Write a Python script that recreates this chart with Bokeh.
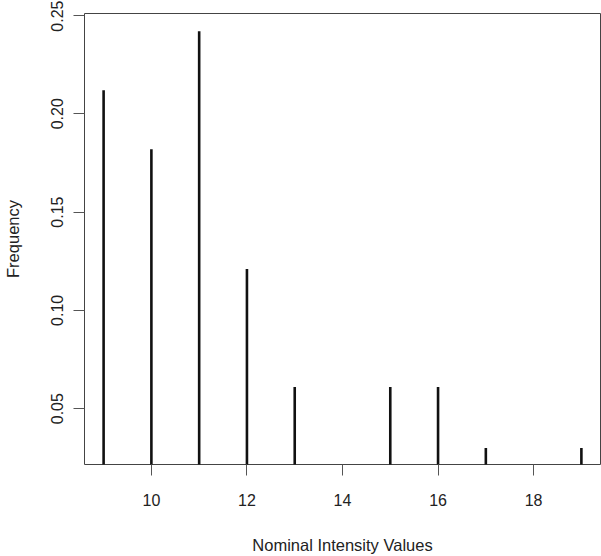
from bokeh.plotting import figure
from bokeh.models import FixedTicker, Range1d, ColumnDataSource
from bokeh.embed import file_html
from bokeh.resources import INLINE

# Data
intensity = [9, 10, 11, 12, 13, 15, 16, 17, 19]
frequency = [0.212, 0.182, 0.242, 0.121, 0.061, 0.061, 0.061, 0.030, 0.030]
baseline = [0, 0, 0, 0, 0, 0, 0, 0, 0]
x_ticks = [10, 12, 14, 16, 18]
y_ticks = [0.05, 0.10, 0.15, 0.20, 0.25]
y_labels = ["0.05", "0.10", "0.15", "0.20", "0.25"]

source = ColumnDataSource(dict(x=intensity, y=frequency, base=baseline))

p = figure(width=601, height=556, output_backend="svg", toolbar_location=None,
           x_range=Range1d(8.6, 19.4), y_range=Range1d(0.0216, 0.2510),
           min_border_left=81, min_border_right=1, min_border_top=13,
           min_border_bottom=91)

p.segment(x0="x", y0="base", x1="x", y1="y", source=source,
          line_color="#111111", line_width=2.6)

FONT = "Liberation Sans"
for ax in (p.xaxis[0], p.yaxis[0]):
    ax.axis_line_color = None
    ax.major_tick_line_color = "#555555"
    ax.major_tick_line_width = 1
    ax.major_tick_out = 11
    ax.major_tick_in = 0
    ax.minor_tick_line_color = None
    ax.major_label_text_font = FONT
    ax.major_label_text_font_size = "16px"
    ax.major_label_text_color = "#222222"
    ax.axis_label_text_font = FONT
    ax.axis_label_text_font_size = "16.5px"
    ax.axis_label_text_font_style = "normal"
    ax.axis_label_text_color = "#222222"

p.xaxis.ticker = FixedTicker(ticks=x_ticks)
p.xaxis.major_label_standoff = 18
p.xaxis.axis_label = "Nominal Intensity Values"
p.xaxis.axis_label_standoff = 27

p.yaxis.ticker = FixedTicker(ticks=y_ticks)
p.yaxis.major_label_overrides = {t: l for t, l in zip(y_ticks, y_labels)}
p.yaxis.major_label_orientation = "vertical"
p.yaxis.major_label_standoff = 10
p.yaxis.axis_label = "Frequency"
p.yaxis.axis_label_standoff = 27

p.xgrid.grid_line_color = None
p.ygrid.grid_line_color = None
p.outline_line_color = "#444444"
p.outline_line_width = 1
p.background_fill_color = "white"
p.border_fill_color = "white"

open("out.html", "w").write(file_html(p, INLINE))
